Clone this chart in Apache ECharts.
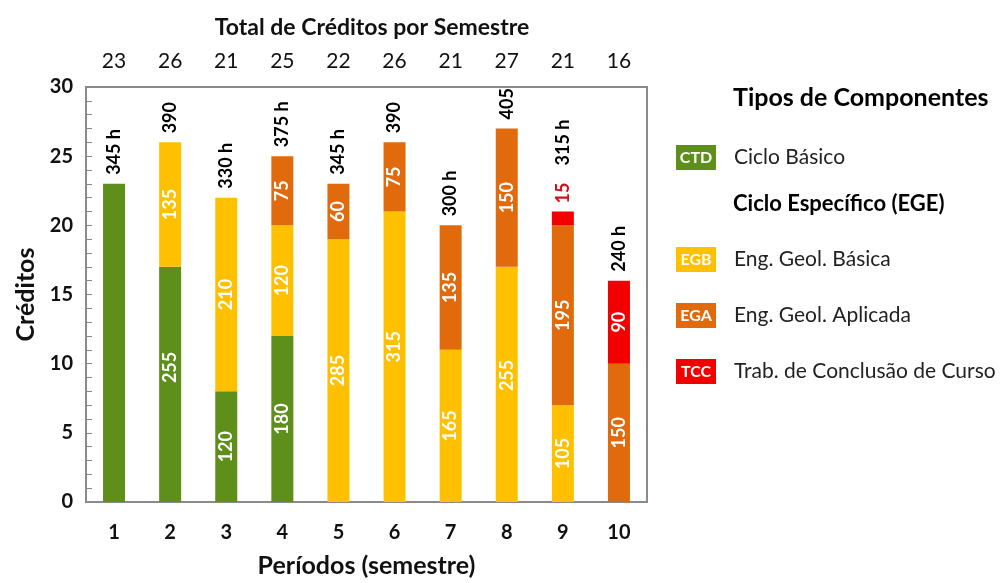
<!DOCTYPE html>
<html>
<head>
<meta charset="utf-8">
<script src="https://cdn.jsdelivr.net/npm/echarts@6/dist/echarts.min.js"></script>
<style>
  html, body { margin: 0; padding: 0; background: #fff; }
  #main { width: 1006px; height: 583px; }
</style>
</head>
<body>
<div id="main"></div>
<script>
// períodos e totais
var periods = ['1', '2', '3', '4', '5', '6', '7', '8', '9', '10'];
var semesterTotals = ['23', '26', '21', '25', '22', '26', '21', '27', '21', '16'];

// créditos por tipo de componente
var ctd = [23, 17, 8, 12, null, null, null, null, null, null];
var egb = [null, 9, 14, 8, 19, 21, 11, 17, 7, null];
var ega = [null, null, null, 5, 4, 5, 9, 10, 13, 10];
var tcc = [null, null, null, null, null, null, null, null, 1, 6];

// horas escritas dentro das barras
var ctdHours = ['', '255', '120', '180', '', '', '', '', '', ''];
var egbHours = ['', '135', '210', '120', '285', '315', '165', '255', '105', ''];
var egaHours = ['', '', '', '75', '60', '75', '135', '150', '195', '150'];
var tccHours = ['', '', '', '', '', '', '', '', '15', '90'];

// topo de cada barra e rótulo de horas totais
var barTops = [23, 26, 22, 25, 23, 26, 20, 27, 21, 16];
var topLabels = ['345 h', '390', '330 h', '375 h', '345 h', '390', '300 h', '405', '315 h', '240 h'];

var FONT = 'Lato, "Open Sans", sans-serif';
var colors = { ctd: '#5e8f1b', egb: '#ffc000', ega: '#e06a0c', tcc: '#f20000' };

// alguns rótulos ficam um pouco acima do centro (texto girado: offset x = para cima)
var nudge = { CTD: { 1: 17 }, EGB: { 5: 10, 7: 9 } };

function stackSeries(name, values, color, hours) {
  var shifts = nudge[name] || {};
  return {
    name: name,
    type: 'bar',
    stack: 'total',
    barWidth: 22,
    itemStyle: { color: color },
    label: {
      show: true,
      position: 'inside',
      rotate: 90,
      color: '#fff',
      fontFamily: FONT,
      fontWeight: 'bold',
      fontSize: 18,
      formatter: function (p) { return hours[p.dataIndex]; }
    },
    data: values.map(function (v, i) {
      if (shifts[i]) return { value: v, label: { offset: [shifts[i], 0] } };
      return v;
    })
  };
}

var tccSeries = stackSeries('TCC', tcc, colors.tcc, tccHours);
tccSeries.data = tcc.map(function (v, i) {
  if (i === 8) {
    return { value: v, label: { position: 'top', color: '#d0101a', distance: 8, align: 'left', verticalAlign: 'middle' } };
  }
  return v;
});

var topSeries = {
  name: 'horas',
  type: 'scatter',
  symbolSize: 0,
  silent: true,
  itemStyle: { opacity: 1 },
  data: barTops.map(function (v, i) {
    var d = { value: v };
    if (i === 8) d.label = { distance: 46 };
    return d;
  }),
  label: {
    show: true,
    position: 'top',
    rotate: 90,
    align: 'left',
    verticalAlign: 'middle',
    distance: 9,
    color: '#000',
    fontFamily: FONT,
    fontWeight: 'bold',
    fontSize: 18,
    formatter: function (p) { return topLabels[p.dataIndex]; }
  }
};

function legendItem(y, code, color, text) {
  return [
    { type: 'rect', shape: { x: 676, y: y - 12, width: 40, height: 25 }, style: { fill: color } },
    { type: 'text', x: 696, y: y + 1, style: { text: code, fill: '#fff', font: 'bold 16px ' + FONT, align: 'center', verticalAlign: 'middle' } },
    { type: 'text', x: 734, y: y, style: { text: text, fill: '#222', font: '21px ' + FONT, verticalAlign: 'middle' } }
  ];
}

var legendGraphics = [
  { type: 'text', x: 733, y: 98, style: { text: 'Tipos de Componentes', fill: '#000', font: 'bold 25px ' + FONT, verticalAlign: 'middle' } },
  { type: 'text', x: 733, y: 204, style: { text: 'Ciclo Específico (EGE)', fill: '#000', font: 'bold 22px ' + FONT, verticalAlign: 'middle' } }
].concat(
  legendItem(157, 'CTD', colors.ctd, 'Ciclo Básico'),
  legendItem(259, 'EGB', colors.egb, 'Eng. Geol. Básica'),
  legendItem(315, 'EGA', colors.ega, 'Eng. Geol. Aplicada'),
  legendItem(371, 'TCC', colors.tcc, 'Trab. de Conclusão de Curso')
);

var option = {
  animation: false,
  backgroundColor: '#fff',
  title: {
    text: 'Total de Créditos por Semestre',
    left: 367,
    textAlign: 'center',
    top: 11,
    textStyle: { fontFamily: FONT, fontWeight: 'bold', fontSize: 23, color: '#111' }
  },
  grid: {
    left: 86, right: 359, top: 87, bottom: 81,
    show: true, borderColor: '#8a8a8a', borderWidth: 2
  },
  xAxis: [
    {
      type: 'category',
      data: periods,
      name: 'Períodos (semestre)',
      nameLocation: 'middle',
      nameGap: 51,
      nameTextStyle: { fontFamily: FONT, fontWeight: 'bold', fontSize: 25, color: '#111' },
      axisLine: { lineStyle: { color: '#8a8a8a', width: 2 } },
      axisTick: { inside: true, length: 5, lineStyle: { color: '#8a8a8a' } },
      axisLabel: { margin: 21, fontFamily: FONT, fontWeight: 'bold', fontSize: 20, color: '#111' }
    },
    {
      type: 'category',
      position: 'top',
      data: semesterTotals,
      axisLine: { show: false },
      axisTick: { show: false },
      axisLabel: { margin: 15, fontFamily: FONT, fontSize: 21, color: '#111' }
    }
  ],
  yAxis: {
    type: 'value',
    min: 0,
    max: 30,
    interval: 5,
    name: 'Créditos',
    nameLocation: 'middle',
    nameGap: 48,
    nameTextStyle: { fontFamily: FONT, fontWeight: 'bold', fontSize: 25, color: '#111' },
    axisLine: { show: true, lineStyle: { color: '#8a8a8a', width: 2 } },
    axisTick: { show: true, inside: true, length: 6, lineStyle: { color: '#8a8a8a' } },
    minorTick: { show: true, splitNumber: 5, length: 6, lineStyle: { color: '#8a8a8a' } },
    splitLine: { show: false },
    axisLabel: { margin: 13, fontFamily: FONT, fontWeight: 'bold', fontSize: 20, color: '#111' }
  },
  series: [
    stackSeries('CTD', ctd, colors.ctd, ctdHours),
    stackSeries('EGB', egb, colors.egb, egbHours),
    stackSeries('EGA', ega, colors.ega, egaHours),
    tccSeries,
    topSeries
  ],
  graphic: legendGraphics
};

var chart = echarts.init(document.getElementById('main'));
chart.setOption(option);
</script>
</body>
</html>
